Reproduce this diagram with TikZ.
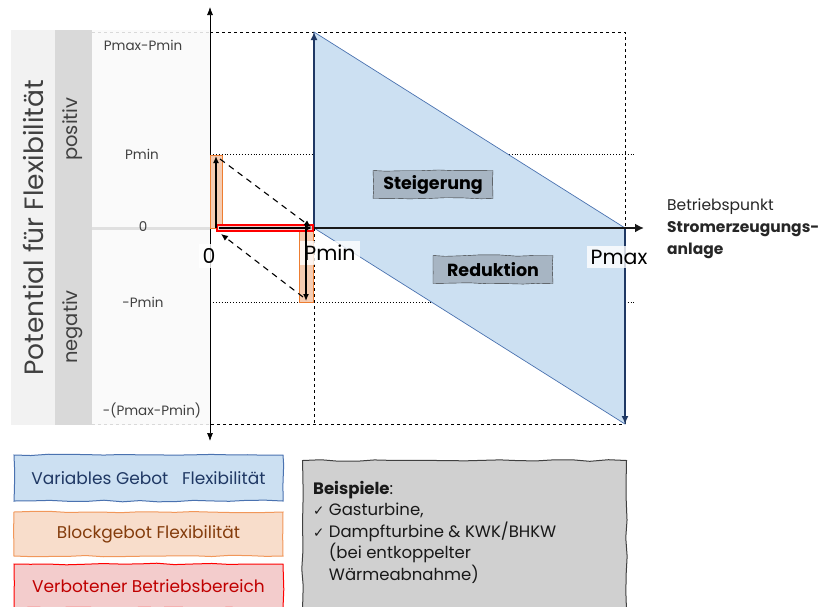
\documentclass[tikz,border=0pt]{standalone}
\usepackage{fontspec}
\setmainfont{Poppins}
\newfontfamily\symfont{DejaVu Sans}
\usetikzlibrary{arrows.meta,decorations.pathmorphing}
\definecolor{bandA}{HTML}{F2F2F2}
\definecolor{bandB}{HTML}{D9D9D9}
\definecolor{bandC}{HTML}{FAFAFA}
\definecolor{bluefill}{HTML}{CCE0F2}
\definecolor{blueedge}{HTML}{4A72B0}
\definecolor{navy}{HTML}{1F3864}
\definecolor{orfill}{HTML}{F5CCB2}
\definecolor{legorfill}{HTML}{F8DDCB}
\definecolor{oredge}{HTML}{ED7D31}
\definecolor{redfill}{HTML}{F3CCCC}
\definecolor{rededge}{HTML}{FF0000}
\definecolor{txtgrey}{HTML}{404040}
\definecolor{tagfill}{HTML}{A7B5C3}
\definecolor{boxgrey}{HTML}{D0D0D0}
\definecolor{browntxt}{HTML}{843C0C}
\definecolor{darkred}{HTML}{C00000}
\tikzset{
  axlabel/.style={text=txtgrey, font=\fontsize{13.5}{15}\selectfont},
  bandlabel/.style={text=txtgrey, rotate=90, font=\fontsize{19.5}{21}\selectfont},
  ticklabel/.style={fill=white, fill opacity=0.8, text opacity=1, font=\fontsize{20.5}{22}\selectfont, inner sep=4pt},
  wobbly/.style={decorate, decoration={random steps, segment length=18pt, amplitude=0.8pt}},
  tag/.style={draw=black!80, fill=tagfill, wobbly, font=\bfseries\fontsize{17.5}{19}\selectfont, minimum width=120pt, minimum height=28pt, inner sep=0pt},
  legend/.style={minimum width=269pt, inner sep=0pt, line width=1pt, wobbly, font=\fontsize{17}{19}\selectfont},
  thickarrow/.style={line width=2.2pt, -{Latex[length=8pt,width=7pt]}},
  blockrect/.style={draw=oredge, fill=orfill, line width=0.8pt},
}
\newcommand{\chk}{{\symfont\fontsize{13.5}{15}\selectfont ✓}}
\pgfmathsetseed{7}
\begin{document}
\begin{tikzpicture}[x=1pt,y=-1pt]
\useasboundingbox (0,0) rectangle (829,606);
% background bands
\fill[bandA] (11,30) rectangle (55,425);
\fill[bandB] (55,30) rectangle (92,425);
\fill[bandC] (92,30) rectangle (210,425);
\draw[line width=3pt, black!12] (92,228) -- (210,228);
% coordinates
\coordinate (o) at (210,228);
\coordinate (pmin) at (314,228);
\coordinate (pmax) at (625,228);
\coordinate (top) at (314,32);
\coordinate (bot) at (625,424);
\coordinate (ytop) at (210,7);
\coordinate (ybot) at (210,441);
\coordinate (xend) at (644,228);
\coordinate (ftl) at (210,32);
\coordinate (ftr) at (625,32);
\coordinate (fbl) at (210,424);
\coordinate (pminb) at (314,424);
% dashed frame
\draw[dashed, black!15] (92,32) -- (ftl);
\draw[dashed, black!15] (92,424) -- (fbl);
\draw[dashed, line width=0.8pt] (ftl) -- (ftr) -- (bot) -- (fbl);
\draw[dashed, line width=0.8pt] (pmin) -- (pminb);
% dotted lines
\coordinate (d1a) at (210,154); \coordinate (d1b) at (636,154);
\coordinate (d2a) at (210,302); \coordinate (d2b) at (636,302);
\draw[dotted, line width=0.9pt] (d1a) -- (d1b);
\draw[dotted, line width=0.9pt] (d2a) -- (d2b);
% blue polygon
\fill[bluefill] (top) -- (pmax) -- (bot) -- (pmin) -- cycle;
\draw[blueedge, line width=0.7pt] (top) -- (pmax) -- (bot) -- (pmin) -- cycle;
% y axis
\draw[line width=0.7pt, {Latex[length=8pt,width=6pt]}-{Latex[length=8pt,width=6pt]}] (ybot) -- (ytop);
% thick arrows
\draw[thickarrow, navy] (pmin) -- (top);
\draw[thickarrow, navy] (pmax) -- (bot);
\draw[line width=2.5pt, black!90, -{Latex[length=9pt,width=9pt]}] (pmin) -- (xend);
% block rects
\draw[blockrect] (210,155) rectangle (222,228);
\draw[blockrect] (299,229) rectangle (313,302);
% tick labels under axis
\node[ticklabel] (l0) at (209,256) {0};
\node[ticklabel] (lpmin) at (330,253) {Pmin};
\node[ticklabel] (lpmax) at (619,257) {Pmax};
\draw[draw=rededge, fill=redfill, line width=1.2pt] (217,225) rectangle (313,231);
% small arrows
\coordinate (a1s) at (216,228); \coordinate (a1e) at (216,156);
\coordinate (a2s) at (306,230); \coordinate (a2e) at (306,301);
\coordinate (hs) at (219,228); \coordinate (he) at (312,228);
\draw[line width=1.3pt, -{Latex[length=7pt,width=6pt]}] (a1s) -- (a1e);
\draw[line width=1.3pt, -{Latex[length=7pt,width=6pt]}] (a2s) -- (a2e);
\draw[line width=2.2pt, -{Latex[length=7pt,width=7pt]}] (hs) -- (he);
\coordinate (ds1) at (220,159); \coordinate (de1) at (311,227);
\coordinate (ds2) at (303,297); \coordinate (de2) at (221,234);
\draw[line width=1.1pt, dash pattern=on 6pt off 5pt, -{Latex[length=7pt,width=6pt]}] (ds1) -- (de1);
\draw[line width=1.1pt, dash pattern=on 6pt off 5pt, -{Latex[length=7pt,width=6pt]}] (ds2) -- (de2);
% tags
\node[tag] (steig) at (433,184.5) {Steigerung};
\node[tag] (red) at (493,269.5) {Reduktion};
% axis labels
\node[axlabel] (lpmp) at (143,45) {Pmax-Pmin};
\node[axlabel] (lp) at (142,154) {Pmin};
\node[axlabel] (l0b) at (143,227) {0};
\node[axlabel] (lmp) at (143,302) {-Pmin};
\node[axlabel] (lmpmp) at (152,410) {-(Pmax-Pmin)};
% band labels
\node[bandlabel, font=\fontsize{26.5}{28}\selectfont] (pot) at (33,228) {Potential für Flexibilität};
\node[bandlabel] (pos) at (73,129) {positiv};
\node[bandlabel] (neg) at (73,327) {negativ};
% right label
\node[anchor=north west, align=left, inner sep=0pt, font=\fontsize{15.5}{22}\selectfont, text=black!85] (bp) at (667,198) {Betriebspunkt\\\textbf{Stromerzeugungs-}\\\textbf{anlage}};
% legend
\node[legend, draw=blueedge, fill=bluefill, text=navy, minimum height=46pt] (lg1) at (148.5,478) {Variables Gebot\ \ \ Flexibilität};
\node[legend, draw=oredge!80, fill=legorfill, text=browntxt, minimum height=44pt] (lg2) at (148.5,534) {Blockgebot Flexibilität};
\node[legend, draw=rededge, fill=redfill, text=darkred, minimum height=44pt] (lg3) at (148.5,586) {Verbotener Betriebsbereich};
% examples box
\node[draw=black!75, fill=boxgrey, line width=1pt, wobbly, minimum width=324pt, minimum height=150pt, anchor=north west] (ex) at (302,460) {};
\node[anchor=north west, align=left, inner sep=0pt, font=\fontsize{16.5}{21.5}\selectfont, text=black!90] (extxt) at (313,481) {\textbf{Beispiele}:\\\chk{} Gasturbine,\\\chk{} Dampfturbine \& KWK/BHKW\\\phantom{\chk{} }(bei entkoppelter\\\phantom{\chk{} }Wärmeabnahme)};
\end{tikzpicture}
\end{document}
